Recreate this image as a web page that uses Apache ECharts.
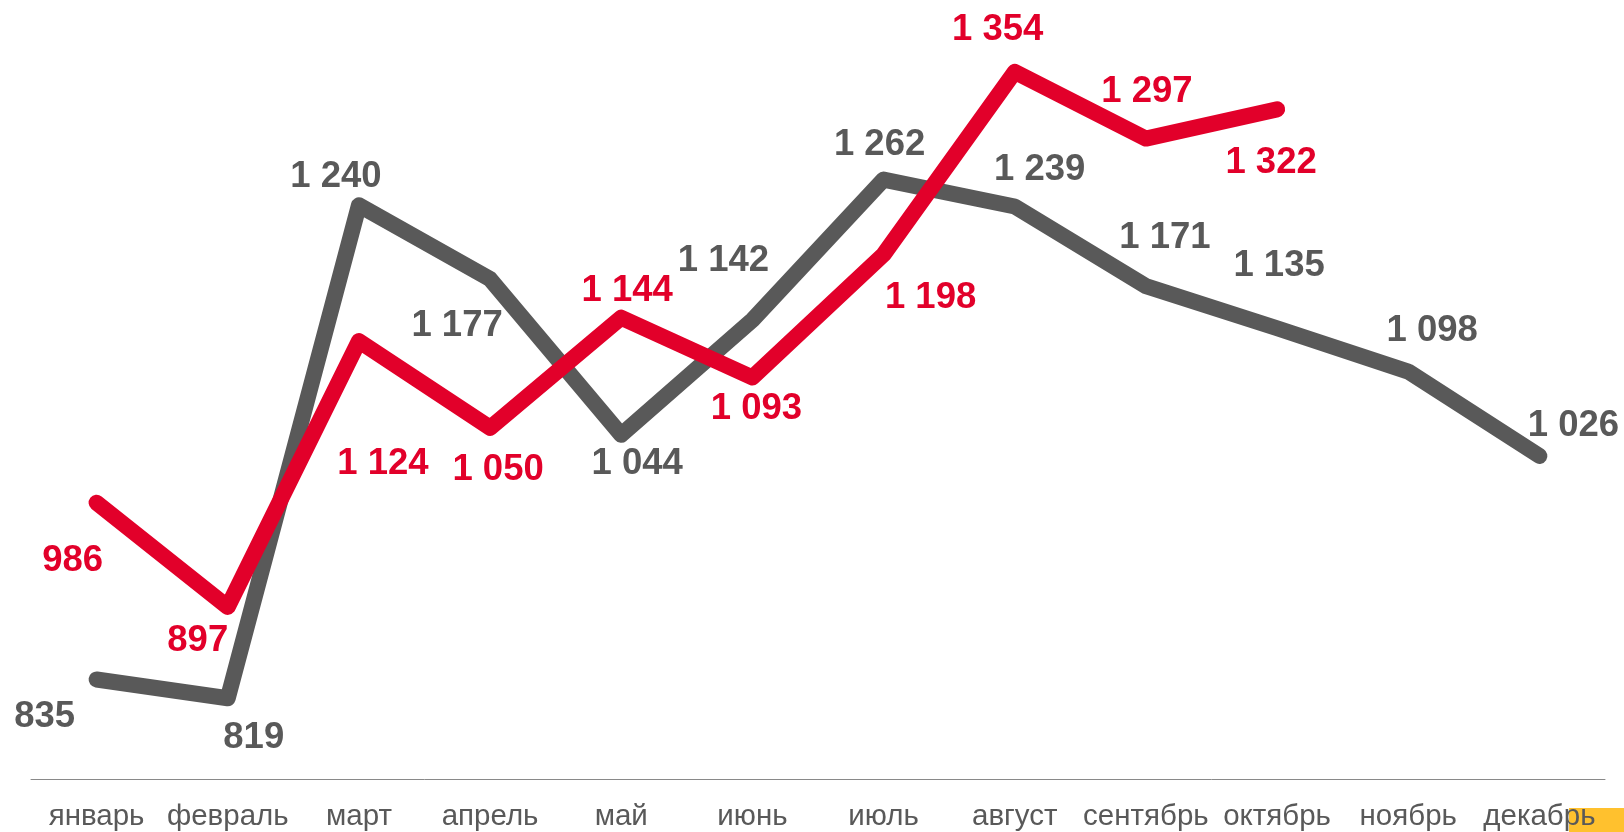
<!DOCTYPE html>
<html>
<head>
<meta charset="utf-8">
<script src="https://cdn.jsdelivr.net/npm/echarts@6/dist/echarts.min.js"></script>
<style>
  html, body { margin: 0; padding: 0; background: #fff; }
  #main { width: 1624px; height: 832px; }
</style>
</head>
<body>
<div id="main"></div>
<script>
// месяцы
const months = ["январь", "февраль", "март", "апрель", "май", "июнь", "июль", "август", "сентябрь", "октябрь", "ноябрь", "декабрь"];
// прошлый год (серый) и текущий год (красный)
const prevYear = [835, 819, 1240, 1177, 1044, 1142, 1262, 1239, 1171, 1135, 1098, 1026];
const curYear = [986, 897, 1124, 1050, 1144, 1093, 1198, 1354, 1297, 1322];

// смещения подписей относительно точки, px
const prevOffsets = [[-52, 37], [26, 40], [-23, -28], [-33, 47], [16, 29], [-29, -59], [-4, -35], [25, -37], [19, -48], [2, -62], [24, -41], [34, -30]];
const curOffsets = [[-24, 58], [-30, 34], [24, 123], [8, 42], [6, -27], [4, 32], [47, 43], [-17, -42], [1, -47], [-6, 54]];

const GRAY = "#595959";
const RED = "#E2002A";

function fmt(v) {
  return String(v).replace(/\B(?=(\d{3})+(?!\d))/g, " ");
}

function build(values, offsets) {
  return values.map(function (v, i) {
    return { value: v, label: { offset: offsets[i] } };
  });
}

function lineSeries(name, values, offsets, color, z) {
  return {
    name: name,
    type: "line",
    data: build(values, offsets),
    symbol: "circle",
    symbolSize: 0.1,
    showSymbol: true,
    lineStyle: { color: color, width: 16, cap: "round", join: "round" },
    itemStyle: { color: color },
    label: {
      show: true,
      position: "inside",
      color: color,
      fontSize: 36.5,
      fontWeight: "bold",
      fontFamily: "Liberation Sans, Arial",
      formatter: function (p) { return fmt(p.value); },
    },
    z: z,
  };
}

const chart = echarts.init(document.getElementById("main"));
chart.setOption({
  animation: false,
  backgroundColor: "#fff",
  grid: { left: 31, right: 19, top: 18, bottom: 53 },
  xAxis: {
    type: "category",
    data: months,
    boundaryGap: true,
    axisLine: { lineStyle: { color: "#898989", width: 1 } },
    axisTick: { show: false },
    axisLabel: {
      color: GRAY,
      fontSize: 29.5,
      fontFamily: "Liberation Sans, Arial",
      margin: 23,
      interval: 0,
    },
  },
  yAxis: {
    type: "value",
    min: 750,
    max: 1400,
    show: false,
    splitLine: { show: false },
  },
  graphic: [
    {
      type: "rect",
      right: 0,
      bottom: 0,
      z: -1,
      shape: { width: 55, height: 24 },
      style: { fill: "#FFC12E" },
    },
  ],
  series: [
    lineSeries("prev", prevYear, prevOffsets, GRAY, 2),
    lineSeries("cur", curYear, curOffsets, RED, 3),
  ],
});
</script>
</body>
</html>
